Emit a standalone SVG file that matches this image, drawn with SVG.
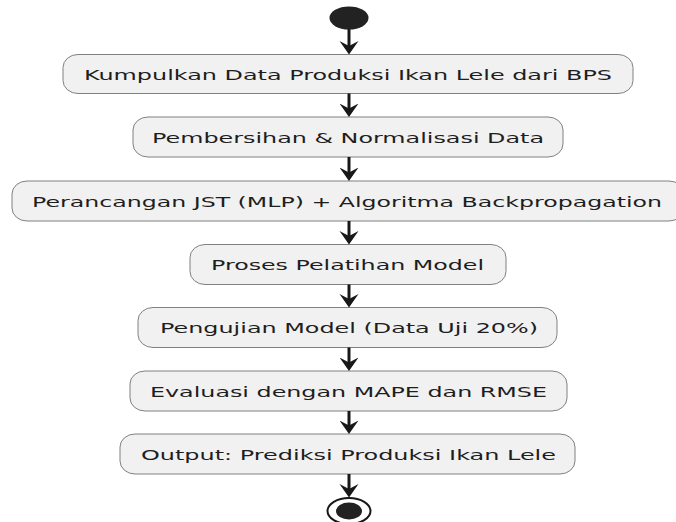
<svg xmlns="http://www.w3.org/2000/svg" width="676" height="522" viewBox="0 0 676 522">
<style>
.box{fill:#F1F1F1;stroke:#808080;stroke-width:1}
.lbl{font-family:"DejaVu Sans",sans-serif;font-size:14.6px;fill:#1e1e1e;text-anchor:middle}
.edge{stroke:#181818;stroke-width:3;fill:none}
.head{fill:#181818}
</style>
<defs>
<marker id="ah" markerUnits="userSpaceOnUse" markerWidth="14" markerHeight="20" refX="7" refY="10" orient="auto" viewBox="0 0 14 20">
<path d="M0,0.5 L13.5,10 L0,19.5 L5,10 Z" class="head"/>
</marker>
</defs>
<rect width="676" height="522" fill="#ffffff"/>
<g id="start"><ellipse cx="349" cy="18" rx="19.5" ry="11.5" fill="#222222"/></g>
<g id="n1"><rect class="box" x="63" y="54.5" width="570" height="39" rx="15" ry="13"/><text class="lbl" x="348" y="80" textLength="528" lengthAdjust="spacingAndGlyphs">Kumpulkan Data Produksi Ikan Lele dari BPS</text></g>
<g id="n2"><rect class="box" x="133" y="117" width="430" height="40" rx="15" ry="13"/><text class="lbl" x="348" y="143" textLength="392" lengthAdjust="spacingAndGlyphs">Pembersihan &amp; Normalisasi Data</text></g>
<g id="n3"><rect class="box" x="12" y="181" width="672" height="40" rx="15" ry="13"/><text class="lbl" x="347" y="206.5" textLength="630" lengthAdjust="spacingAndGlyphs">Perancangan JST (MLP) + Algoritma Backpropagation</text></g>
<g id="n4"><rect class="box" x="190" y="244.5" width="316" height="40" rx="15" ry="13"/><text class="lbl" x="347.5" y="270" textLength="273" lengthAdjust="spacingAndGlyphs">Proses Pelatihan Model</text></g>
<g id="n5"><rect class="box" x="138" y="307.5" width="419" height="40" rx="15" ry="13"/><text class="lbl" x="349" y="333" textLength="378" lengthAdjust="spacingAndGlyphs">Pengujian Model (Data Uji 20%)</text></g>
<g id="n6"><rect class="box" x="130" y="371" width="437" height="40" rx="15" ry="13"/><text class="lbl" x="348.5" y="396.5" textLength="397" lengthAdjust="spacingAndGlyphs">Evaluasi dengan MAPE dan RMSE</text></g>
<g id="n7"><rect class="box" x="120" y="434" width="455" height="40" rx="15" ry="13"/><text class="lbl" x="348.5" y="459.5" textLength="415" lengthAdjust="spacingAndGlyphs">Output: Prediksi Produksi Ikan Lele</text></g>
<g id="end"><ellipse cx="349" cy="511" rx="21.5" ry="13" fill="none" stroke="#181818" stroke-width="2"/><ellipse cx="349" cy="511" rx="13" ry="8.5" fill="#222222"/></g>
<g id="connectors">
<path class="edge" d="M349,29 V48" marker-end="url(#ah)"/>
<path class="edge" d="M349,93.5 V110.5" marker-end="url(#ah)"/>
<path class="edge" d="M349,157 V174.5" marker-end="url(#ah)"/>
<path class="edge" d="M349,221 V238" marker-end="url(#ah)"/>
<path class="edge" d="M349,284.5 V301" marker-end="url(#ah)"/>
<path class="edge" d="M349,347.5 V364.5" marker-end="url(#ah)"/>
<path class="edge" d="M349,411 V427.5" marker-end="url(#ah)"/>
<path class="edge" d="M349,474 V491" marker-end="url(#ah)"/>
</g>
</svg>
